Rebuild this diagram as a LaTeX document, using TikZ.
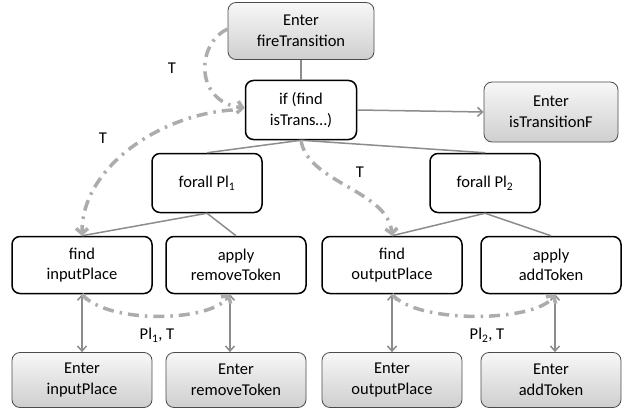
\documentclass[tikz,border=0pt]{standalone}
\usepackage{fontspec}
\setmainfont{Carlito}
\usetikzlibrary{arrows.meta}

\begin{document}
\begin{tikzpicture}[x=1pt,y=-1pt,every node/.style={align=center}]
  \tikzset{
    stmt/.style={draw=black,line width=1.5pt,rounded corners=8pt,fill=white,
      minimum width=140pt,minimum height=57pt,inner sep=0pt,
      font=\fontsize{16.5}{20.5}\selectfont},
    enter/.style={stmt,draw=black!70,line width=0.8pt,
      top color=gray!6,bottom color=gray!38}, % Enter boxes
    tree/.style={draw=gray!90,line width=1.5pt},
    call/.style={tree,-{Straight Barb[length=5pt,width=9pt]}},
    both/.style={tree,{Straight Barb[length=5pt,width=9pt]}-{Straight Barb[length=5pt,width=9pt]}},
    flow/.style={draw=gray!65,line width=3.5pt,
      dash pattern=on 11pt off 6pt on 2.5pt off 6pt,
      -{Straight Barb[length=5pt,width=12pt]}}, % dash-dot control flow
    lbl/.style={font=\fontsize{16.5}{20.5}\selectfont}
  }
  \useasboundingbox (0,0) rectangle (624,412);

  % top
  \node[enter,minimum width=146pt] (fire) at (301,31) {Enter\\fireTransition};
  \node[stmt,minimum width=111pt,minimum height=59pt] (ifn) at (301,110) {if (find\\isTrans…)};
  \node[enter,minimum width=134pt,minimum height=60pt] (istf) at (551,112) {Enter\\isTransitionF};

  % forall loops
  \node[stmt,minimum width=110pt,minimum height=59pt] (fa1) at (207,183) {forall Pl\textsubscript{1}};
  \node[stmt,minimum width=110pt,minimum height=59pt] (fa2) at (485,183) {forall Pl\textsubscript{2}};

  % calls
  \node[stmt] (inp)  at (82,265)  {find\\inputPlace};
  \node[stmt] (rem)  at (236,265) {apply\\removeToken};
  \node[stmt] (outp) at (392,265) {find\\outputPlace};
  \node[stmt] (add)  at (551,265) {apply\\addToken};

  % entered functions
  \node[enter,minimum height=55pt] (einp)  at (82,380)  {Enter\\inputPlace};
  \node[enter,minimum height=55pt] (erem)  at (236,380) {Enter\\removeToken};
  \node[enter,minimum height=55pt] (eoutp) at (392,380) {Enter\\outputPlace};
  \node[enter,minimum height=55pt] (eadd)  at (551,380) {Enter\\addToken};

  % tree edges
  \draw[tree] (fire) -- (ifn);
  \draw[call] (ifn.east) -- (istf.west);
  \draw[tree] (ifn.south) -- (fa1.north);
  \draw[tree] (ifn.south) -- (fa2.north);
  \draw[tree] (fa1.south) -- (inp.north);
  \draw[tree] (fa1.south) -- (rem.north);
  \draw[tree] (fa2.south) -- (outp.north);
  \draw[tree] (fa2.south) -- (add.north);
  \draw[both] (inp) -- (einp);
  \draw[both] ([xshift=-6pt]rem.south) -- ([xshift=-6pt]erem.north);
  \draw[both] (outp) -- (eoutp);
  \draw[both] ([xshift=4pt]add.south) -- ([xshift=4pt]eadd.north);

  % control flow
  \draw[flow] ([yshift=2pt]fire.west) .. controls +(-32,15) and +(-50,-6) .. ([yshift=2pt]ifn.west);
  \draw[flow] ([xshift=-12pt]ifn.west) .. controls +(-70,4) and +(0,-70) .. (inp.north);
  \draw[flow] (ifn.south) .. controls +(6,42) and +(-4,-45) .. (outp.north);
  \draw[flow] (inp.south) .. controls +(25,30) and +(-20,28) .. ([xshift=-6pt]rem.south);
  \draw[flow] (outp.south) .. controls +(25,30) and +(-20,28) .. ([xshift=4pt]add.south);

  % labels
  \node[lbl] (t1) at (172,68) {T};
  \node[lbl] (t2) at (103,138) {T};
  \node[lbl] (t3) at (360,172) {T};
  \node[lbl] (p1) at (157,335) {Pl\textsubscript{1}, T};
  \node[lbl] (p2) at (487,335) {Pl\textsubscript{2}, T};
\end{tikzpicture}
\end{document}
